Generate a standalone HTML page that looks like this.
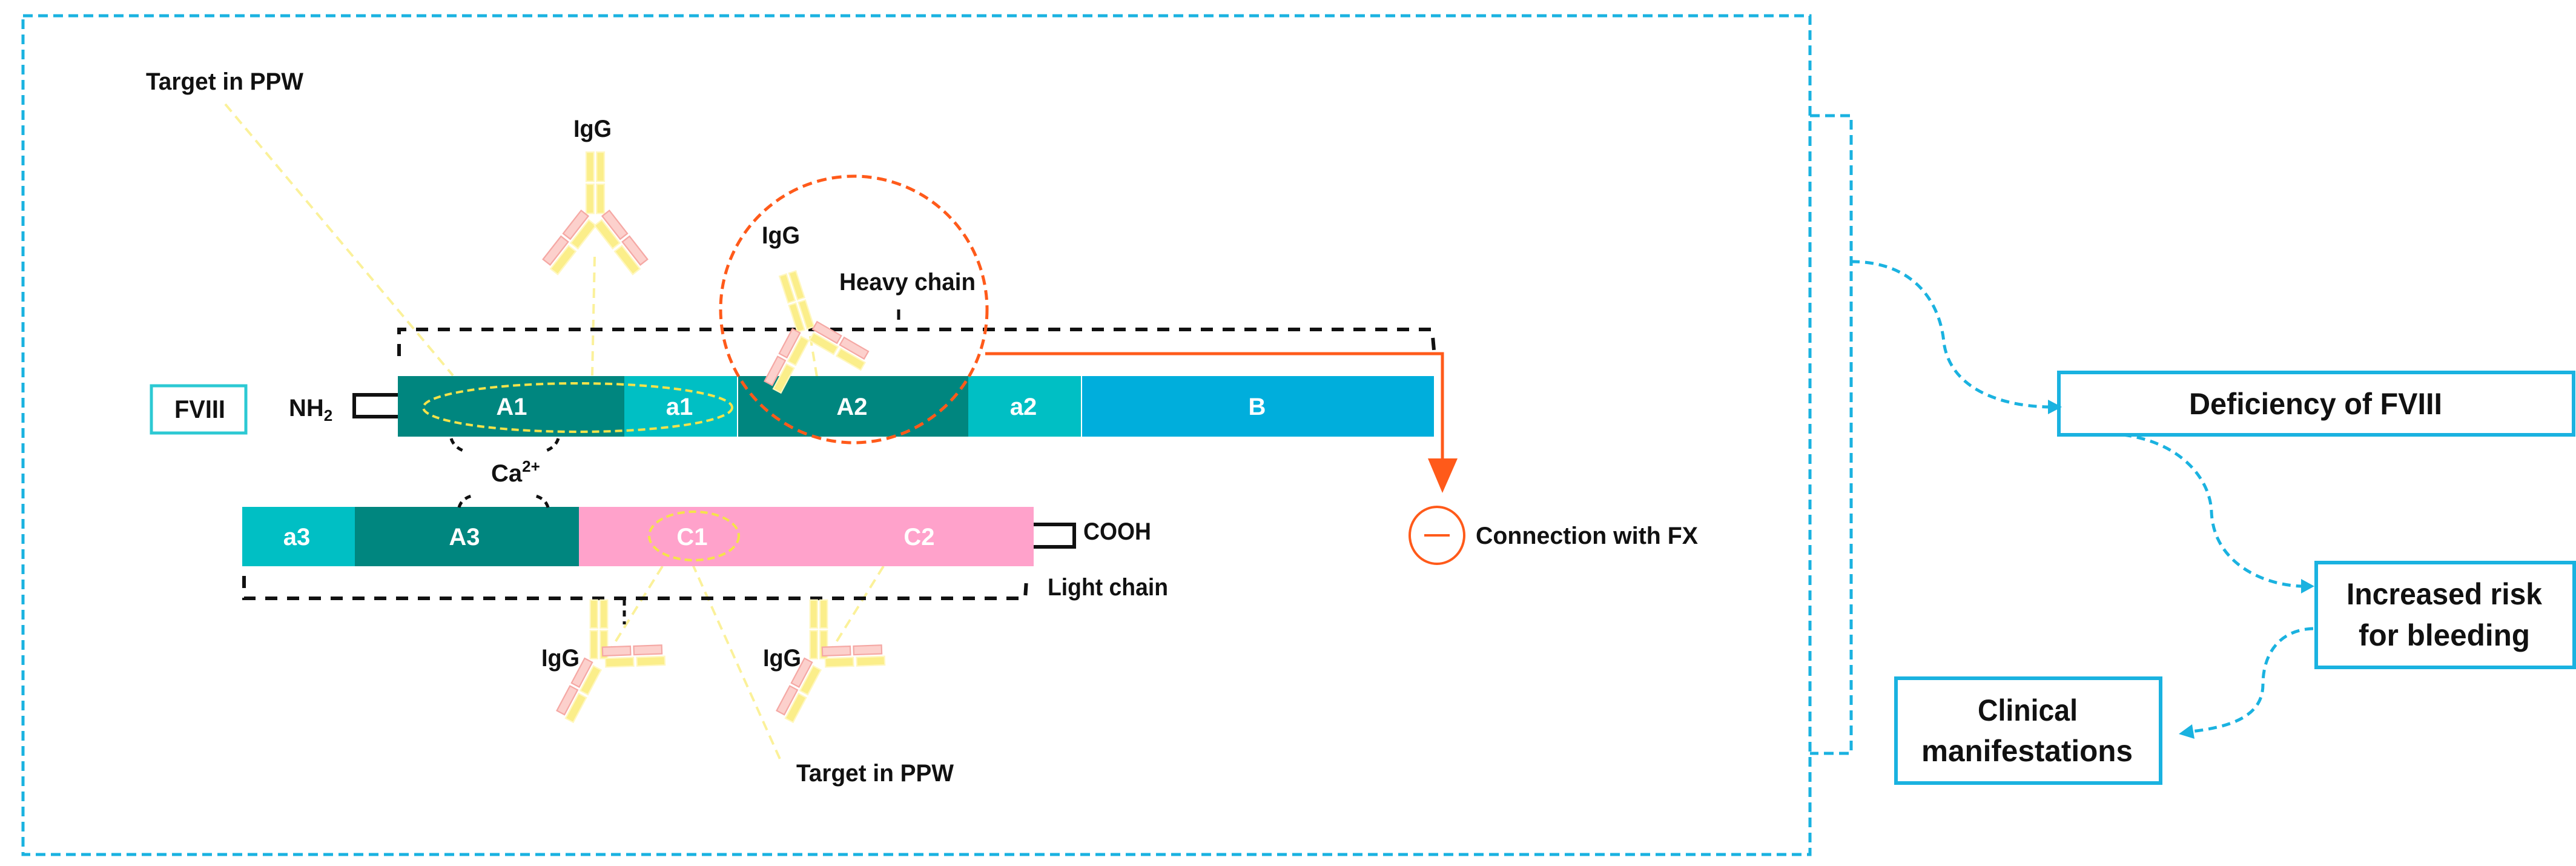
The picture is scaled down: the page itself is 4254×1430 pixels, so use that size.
<!DOCTYPE html>
<html><head><meta charset="utf-8"><style>
html,body{margin:0;padding:0;background:#fff;}
svg{display:block;}
text{font-family:"Liberation Sans Narrow","Liberation Sans",sans-serif;font-weight:bold;}
</style></head><body>
<svg width="4254" height="1430" viewBox="0 0 4254 1430" xmlns="http://www.w3.org/2000/svg">
<defs>
<g id="stem">
<rect x="-13" y="-92" width="11" height="42" fill="#fbee8a" stroke="#fff7c0" stroke-width="2"/>
<rect x="2" y="-92" width="11" height="42" fill="#fbee8a" stroke="#fff7c0" stroke-width="2"/>
<rect x="-13" y="-46" width="11" height="42" fill="#fbee8a" stroke="#fff7c0" stroke-width="2"/>
<rect x="2" y="-46" width="11" height="42" fill="#fbee8a" stroke="#fff7c0" stroke-width="2"/>
</g>
<g id="armL">
<rect x="-4" y="10" width="13" height="42" fill="#fbee8a" stroke="#fff7c0" stroke-width="2"/>
<rect x="-4" y="57" width="13" height="42" fill="#fbee8a" stroke="#fff7c0" stroke-width="2"/>
<rect x="-21" y="6" width="13" height="42" fill="#fcd0cc" stroke="#f5a8a4" stroke-width="2"/>
<rect x="-21" y="53" width="13" height="42" fill="#fcd0cc" stroke="#f5a8a4" stroke-width="2"/>
</g>
<g id="armR">
<rect x="-9" y="10" width="13" height="42" fill="#fbee8a" stroke="#fff7c0" stroke-width="2"/>
<rect x="-9" y="57" width="13" height="42" fill="#fbee8a" stroke="#fff7c0" stroke-width="2"/>
<rect x="8" y="6" width="13" height="42" fill="#fcd0cc" stroke="#f5a8a4" stroke-width="2"/>
<rect x="8" y="53" width="13" height="42" fill="#fcd0cc" stroke="#f5a8a4" stroke-width="2"/>
</g>
</defs>

<rect x="38" y="26" width="2951" height="1385" fill="none" stroke="#1ab2e0" stroke-width="5" stroke-dasharray="16 9"/>
<path d="M2989,191 L3057,191 L3057,1244 L2989,1244" fill="none" stroke="#1ab2e0" stroke-width="5" stroke-dasharray="16 9"/>

<g stroke="#fbf19a" stroke-width="4" stroke-dasharray="16 10" fill="none">
<line x1="372" y1="172" x2="748" y2="620"/>
<line x1="982" y1="424" x2="978" y2="620"/>
<line x1="1094" y1="935" x2="1003" y2="1081"/>
<line x1="1143" y1="930" x2="1291" y2="1260"/>
<line x1="1459" y1="935" x2="1368" y2="1081"/>
<line x1="1338" y1="555" x2="1352" y2="640"/>
</g>

<path d="M659,588 L659,544 L2365,544 L2368,578" fill="none" stroke="#111" stroke-width="6" stroke-dasharray="20 16"/>
<line x1="1484" y1="511" x2="1484" y2="528" stroke="#111" stroke-width="5"/>
<path d="M403,951 L403,988 L1693,988 L1695,958" fill="none" stroke="#111" stroke-width="6" stroke-dasharray="20 16"/>
<line x1="1031" y1="990" x2="1031" y2="1031" stroke="#111" stroke-width="5" stroke-dasharray="10 8"/>

<rect x="657" y="621" width="374" height="100" fill="#00867f"/>
<rect x="1031" y="621" width="187" height="100" fill="#00bfc4"/>
<rect x="1218" y="621" width="381" height="100" fill="#00867f"/>
<rect x="1599" y="621" width="187" height="100" fill="#00bfc4"/>
<rect x="1786" y="621" width="582" height="100" fill="#00aedc"/>
<line x1="1218" y1="621" x2="1218" y2="721" stroke="#fff" stroke-width="2"/>
<line x1="1786" y1="621" x2="1786" y2="721" stroke="#fff" stroke-width="2"/>
<g fill="#fff" font-size="40" text-anchor="middle">
<text x="845" y="685">A1</text><text x="1122" y="685">a1</text><text x="1407" y="685">A2</text><text x="1690" y="685">a2</text><text x="2076" y="685">B</text>
</g>
<rect x="400" y="837" width="186" height="98" fill="#00bfc4"/>
<rect x="586" y="837" width="370" height="98" fill="#00867f"/>
<rect x="956" y="837" width="751" height="98" fill="#ffa2cb"/>
<g fill="#fff" font-size="40" text-anchor="middle">
<text x="490" y="900">a3</text><text x="767" y="900">A3</text><text x="1143" y="900">C1</text><text x="1518" y="900">C2</text>
</g>

<ellipse cx="954" cy="673" rx="255" ry="40" fill="none" stroke="#f5e34a" stroke-width="4" stroke-dasharray="12 7"/>
<ellipse cx="1146" cy="885" rx="74" ry="40" fill="none" stroke="#f5e34a" stroke-width="4" stroke-dasharray="12 7"/>

<path d="M657,652 L585,652 L585,688 L657,688" fill="none" stroke="#111" stroke-width="6"/>
<path d="M1707,866 L1774,866 L1774,903 L1707,903" fill="none" stroke="#111" stroke-width="6"/>

<g fill="none" stroke="#111" stroke-width="5" stroke-dasharray="10 8">
<path d="M745,724 Q750,740 770,746"/>
<path d="M922,724 Q917,740 897,746"/>
<path d="M758,838 Q762,824 778,819"/>
<path d="M905,838 Q901,824 885,819"/>
</g>

<g transform="translate(983,357) scale(1.15)"><use href="#stem"/><use href="#armL" transform="rotate(38)"/><use href="#armR" transform="rotate(-38)"/></g>
<g transform="translate(1332,548) scale(1.1)"><use href="#stem" transform="rotate(-18)"/><use href="#armL" transform="rotate(28)"/><use href="#armR" transform="rotate(-60)"/></g>
<g transform="translate(989,1092) scale(1.1)"><use href="#stem"/><use href="#armL" transform="rotate(28)"/><use href="#armR" transform="rotate(-92)"/></g>
<g transform="translate(1352,1092) scale(1.1)"><use href="#stem"/><use href="#armL" transform="rotate(28)"/><use href="#armR" transform="rotate(-92)"/></g>

<circle cx="1410" cy="511" r="220" fill="none" stroke="#ff5a1a" stroke-width="5" stroke-dasharray="16 9"/>
<path d="M1627,584 L2382,584 L2382,760" fill="none" stroke="#ff5a1a" stroke-width="5"/>
<polygon points="2358,757 2407,757 2382,814" fill="#ff5a1a"/>
<ellipse cx="2373" cy="884" rx="45" ry="47" fill="none" stroke="#ff5a1a" stroke-width="4"/>
<line x1="2352" y1="884" x2="2394" y2="884" stroke="#ff5a1a" stroke-width="4"/>

<g fill="#111" font-size="40">
<text x="241" y="148" textLength="260" lengthAdjust="spacingAndGlyphs">Target in PPW</text>
<text x="1315" y="1290" textLength="260" lengthAdjust="spacingAndGlyphs">Target in PPW</text>
<text x="947" y="226" textLength="63" lengthAdjust="spacingAndGlyphs">IgG</text>
<text x="1258" y="402" textLength="63" lengthAdjust="spacingAndGlyphs">IgG</text>
<text x="894" y="1100" textLength="63" lengthAdjust="spacingAndGlyphs">IgG</text>
<text x="1260" y="1100" textLength="63" lengthAdjust="spacingAndGlyphs">IgG</text>
<text x="1386" y="479" textLength="225" lengthAdjust="spacingAndGlyphs">Heavy chain</text>
<text x="477" y="687">NH<tspan font-size="26" dy="8">2</tspan></text>
<text x="811" y="795">Ca<tspan font-size="26" dy="-16">2+</tspan></text>
<text x="1789" y="891" textLength="112" lengthAdjust="spacingAndGlyphs">COOH</text>
<text x="1730" y="983" textLength="199" lengthAdjust="spacingAndGlyphs">Light chain</text>
<text x="2437" y="898" textLength="367" lengthAdjust="spacingAndGlyphs">Connection with FX</text>
</g>

<rect x="250" y="637" width="156" height="78" fill="#fff" stroke="#2cc9d3" stroke-width="5"/>
<text x="288" y="690" font-size="42" fill="#111" textLength="84" lengthAdjust="spacingAndGlyphs">FVIII</text>

<g fill="#fff" stroke="#1ab2e0" stroke-width="6">
<rect x="3400" y="615" width="850" height="103"/>
<rect x="3825" y="929" width="426" height="173"/>
<rect x="3131" y="1120" width="437" height="173"/>
</g>
<g fill="#111" font-size="50">
<text x="3615" y="684" textLength="418" lengthAdjust="spacingAndGlyphs">Deficiency of FVIII</text>
<text x="3875" y="998" textLength="323" lengthAdjust="spacingAndGlyphs">Increased risk</text>
<text x="3895" y="1066" textLength="283" lengthAdjust="spacingAndGlyphs">for bleeding</text>
<text x="3266" y="1190" textLength="165" lengthAdjust="spacingAndGlyphs">Clinical</text>
<text x="3173" y="1257" textLength="349" lengthAdjust="spacingAndGlyphs">manifestations</text>
</g>

<g fill="none" stroke="#1ab2e0" stroke-width="5" stroke-dasharray="14 9">
<path d="M3057,432 C3170,432 3205,510 3210,565 C3220,640 3300,670 3382,672"/>
<path d="M3506,718 C3600,730 3650,790 3652,845 C3655,925 3730,965 3800,968"/>
<path d="M3820,1038 C3760,1040 3737,1085 3737,1130 C3737,1180 3690,1200 3618,1208"/>
</g>
<polygon points="3382,660 3405,672 3382,684" fill="#1ab2e0"/>
<polygon points="3800,956 3822,968 3800,980" fill="#1ab2e0"/>
<polygon points="3620,1196 3598,1212 3624,1220" fill="#1ab2e0"/>
</svg>
</body></html>
